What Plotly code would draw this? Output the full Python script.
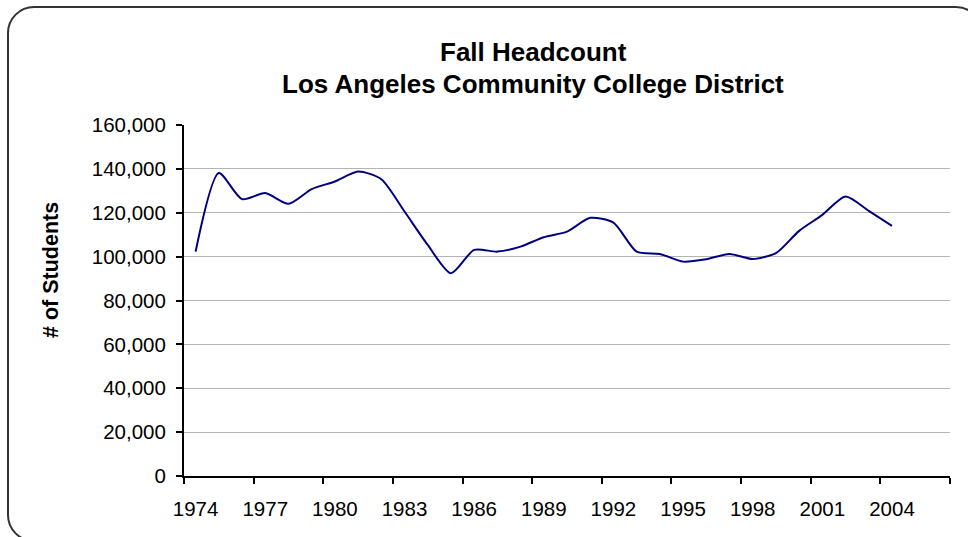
import plotly.graph_objects as go

# ---- data ----
years = list(range(1974, 2005))
headcount = [102300, 138100, 126200, 128950, 124060, 130780, 134250, 138800, 135300, 120550,
             105340, 92420, 103060, 102280, 104570, 108860, 111420, 117670, 115520, 102280,
             101230, 97720, 98810, 101230, 98950, 101550, 111740, 119040, 127400, 120870, 114020]
label_years = list(range(1974, 2005, 3))
tick_labels = [str(y) for y in label_years]
category_bounds = [1973.5 + 3 * k for k in range(12)]
y_ticks = list(range(0, 160001, 20000))

title_line1 = "Fall Headcount"
title_line2 = "Los Angeles Community College District"
y_title = "# of Students"

# ---- layout geometry (pixels) ----
W, H = 968, 537
L, R, T, B = 184, 18, 125, 61
PW, PH = W - L - R, H - T - B


def px(xp):
    return (xp - L) / PW


def py(yp):
    return (H - B - yp) / PH


FONT = "Liberation Sans, Arial, sans-serif"

fig = go.Figure()
# invisible helper on the boundary axis (tick marks only)
fig.add_trace(go.Scatter(x=years, y=headcount, mode="lines", line=dict(width=0),
                         opacity=0, hoverinfo="skip", showlegend=False, xaxis="x", yaxis="y"))
fig.add_trace(go.Scatter(x=years, y=headcount, mode="lines",
                         line=dict(color="#000080", width=2, shape="spline", smoothing=0.7),
                         showlegend=False, xaxis="x2", yaxis="y"))

xrange = [1973.5, 2006.5]

fig.update_layout(
    width=W, height=H,
    margin=dict(l=L, r=R, t=T, b=B, pad=0),
    paper_bgcolor="white", plot_bgcolor="white",
    font=dict(family=FONT, size=20.5, color="black"),
    xaxis=dict(range=xrange, tickmode="array", tickvals=category_bounds, showticklabels=False,
               ticks="outside", ticklen=6, tickwidth=1.5, tickcolor="black",
               showline=True, linecolor="black", linewidth=2, showgrid=False, zeroline=False),
    xaxis2=dict(range=xrange, overlaying="x", anchor="y", side="bottom", tickmode="array",
                tickvals=label_years, ticktext=tick_labels, ticks="", showline=False,
                showgrid=False, zeroline=False, ticklabelstandoff=18,
                tickfont=dict(family=FONT, size=20.5, color="black")),
    yaxis=dict(range=[0, 160000], tickmode="array", tickvals=y_ticks, tickformat=",d",
               ticks="outside", ticklen=6, tickwidth=1.5, tickcolor="black",
               showline=True, linecolor="black", linewidth=2,
               showgrid=True, gridcolor="#b4b4b4", gridwidth=1, zeroline=False,
               ticklabelstandoff=6, tickfont=dict(family=FONT, size=20.5, color="black")),
)

fig.add_annotation(text="<b>" + title_line1 + "</b>", xref="paper", yref="paper",
                   x=px(533), y=py(52), xanchor="center", yanchor="middle", showarrow=False,
                   font=dict(family=FONT, size=26, color="black"))
fig.add_annotation(text="<b>" + title_line2 + "</b>", xref="paper", yref="paper",
                   x=px(533), y=py(84), xanchor="center", yanchor="middle", showarrow=False,
                   font=dict(family=FONT, size=26, color="black"))
fig.add_annotation(text="<b>" + y_title + "</b>", xref="paper", yref="paper",
                   x=px(51), y=py(270), xanchor="center", yanchor="middle", showarrow=False,
                   textangle=-90, font=dict(family=FONT, size=21.5, color="black"))

# rounded chart-area border
x0, y0, x1, y1, r = 8, 7, 982, 541, 26
k = 0.55 * r
pts = [
    f"M {px(x0 + r)},{py(y0)}",
    f"L {px(x1 - r)},{py(y0)}",
    f"C {px(x1 - r + k)},{py(y0)} {px(x1)},{py(y0 + r - k)} {px(x1)},{py(y0 + r)}",
    f"L {px(x1)},{py(y1 - r)}",
    f"C {px(x1)},{py(y1 - r + k)} {px(x1 - r + k)},{py(y1)} {px(x1 - r)},{py(y1)}",
    f"L {px(x0 + r)},{py(y1)}",
    f"C {px(x0 + r - k)},{py(y1)} {px(x0)},{py(y1 - r + k)} {px(x0)},{py(y1 - r)}",
    f"L {px(x0)},{py(y0 + r)}",
    f"C {px(x0)},{py(y0 + r - k)} {px(x0 + r - k)},{py(y0)} {px(x0 + r)},{py(y0)} Z",
]
fig.add_shape(type="path", path=" ".join(pts), xref="paper", yref="paper",
              line=dict(color="#333333", width=2), fillcolor="rgba(0,0,0,0)", layer="above")

fig.write_html("out.html", config={"displayModeBar": False},
               post_script="document.body.style.margin='0';")
